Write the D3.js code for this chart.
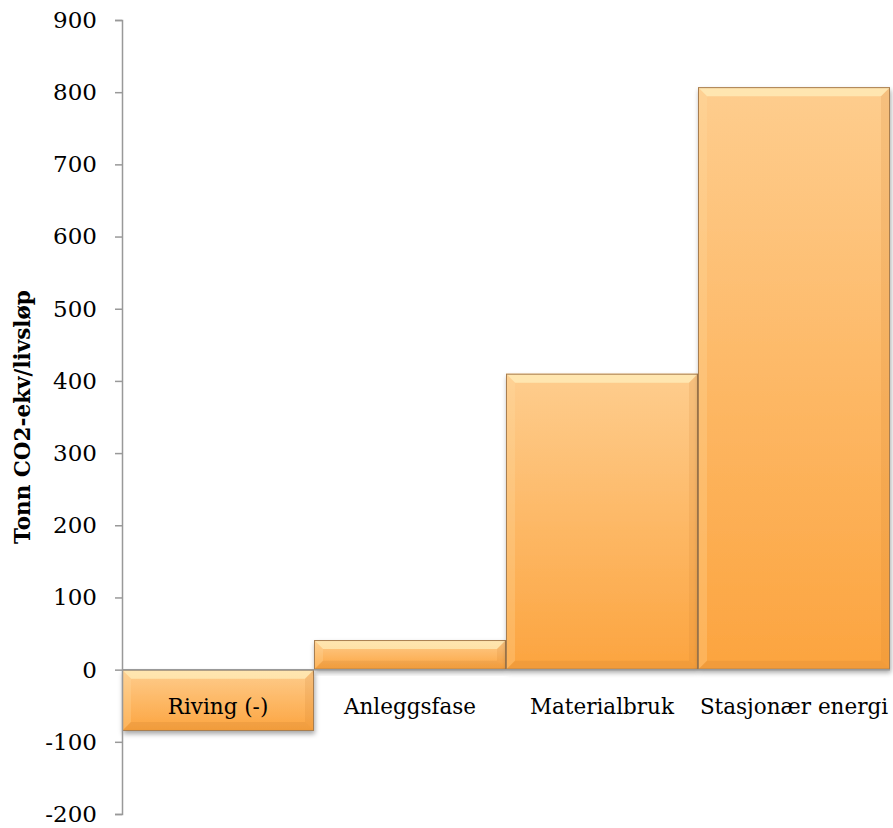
<!DOCTYPE html>
<html>
<head>
<meta charset="utf-8">
<script src="https://cdn.jsdelivr.net/npm/d3@7"></script>
<style>
  body { margin: 0; background: #fff; }
  text { font-family: "DejaVu Serif", "Liberation Serif", serif; }
</style>
</head>
<body>
<div id="chart"></div>
<script>
// data
const categories = ["Riving (-)", "Anleggsfase", "Materialbruk", "Stasjonær energi"];
const values = [-85, 41, 410, 807];
const yTicks = [-200, -100, 0, 100, 200, 300, 400, 500, 600, 700, 800, 900];
const yLabel = "Tonn CO2-ekv/livsløp";

const width = 893, height = 828;
const margin = { top: 20, right: 3, bottom: 14, left: 122 };

const svg = d3.select("#chart").append("svg")
  .attr("width", width)
  .attr("height", height);

const defs = svg.append("defs");

const grad = defs.append("linearGradient")
  .attr("id", "barGrad")
  .attr("x1", 0).attr("y1", 0).attr("x2", 0).attr("y2", 1);
grad.append("stop").attr("offset", "0%").attr("stop-color", "#fecd8e");
grad.append("stop").attr("offset", "100%").attr("stop-color", "#fca43f");

const shadow = defs.append("filter")
  .attr("id", "shadow")
  .attr("x", "-10%").attr("y", "-10%").attr("width", "130%").attr("height", "130%");
shadow.append("feDropShadow")
  .attr("dx", 1).attr("dy", 3).attr("stdDeviation", 2.5)
  .attr("flood-color", "#000").attr("flood-opacity", 0.35);

const x = d3.scaleBand()
  .domain(categories)
  .range([margin.left, width - margin.right])
  .padding(0);

const y = d3.scaleLinear()
  .domain([-200, 900])
  .range([height - margin.bottom, margin.top]);

// bars
const bev = 9;
const bars = svg.append("g").selectAll("g.bar")
  .data(categories.map((c, i) => ({ cat: c, val: values[i] })))
  .enter().append("g")
  .attr("class", "bar");

bars.each(function(d) {
  const g = d3.select(this);
  const x0 = x(d.cat), x1 = x0 + x.bandwidth();
  const yt = y(Math.max(0, d.val)), yb = y(Math.min(0, d.val));
  const b = Math.min(bev, (yb - yt) / 2);

  g.append("rect")
    .attr("x", x0).attr("y", yt)
    .attr("width", x1 - x0).attr("height", yb - yt)
    .attr("fill", "url(#barGrad)")
    .attr("filter", "url(#shadow)");

  // bevel faces
  g.append("polygon")
    .attr("points", [[x0, yt], [x1, yt], [x1 - b, yt + b], [x0 + b, yt + b]].join(" "))
    .attr("fill", "#fff6c8").attr("opacity", 0.6);
  g.append("polygon")
    .attr("points", [[x0, yt], [x0 + b, yt + b], [x0 + b, yb - b], [x0, yb]].join(" "))
    .attr("fill", "#ffe0a8").attr("opacity", 0.25);
  g.append("polygon")
    .attr("points", [[x1, yt], [x1, yb], [x1 - b, yb - b], [x1 - b, yt + b]].join(" "))
    .attr("fill", "#c8772a").attr("opacity", 0.15);
  g.append("polygon")
    .attr("points", [[x0, yb], [x1, yb], [x1 - b, yb - b], [x0 + b, yb - b]].join(" "))
    .attr("fill", "#b86a20").attr("opacity", 0.15);

  g.append("rect")
    .attr("x", x0 + 0.5).attr("y", yt + 0.5)
    .attr("width", x1 - x0 - 1).attr("height", yb - yt - 1)
    .attr("fill", "none")
    .attr("stroke", "#a87e50")
    .attr("stroke-width", 1);
});

// zero line
svg.append("line")
  .attr("x1", margin.left).attr("x2", width - margin.right)
  .attr("y1", y(0)).attr("y2", y(0))
  .attr("stroke", "#999").attr("stroke-width", 1.5);

// y axis
const yAxis = svg.append("g")
  .attr("transform", `translate(${margin.left},0)`)
  .call(d3.axisLeft(y).tickValues(yTicks).tickSize(7).tickPadding(18).tickFormat(d => String(d)));
yAxis.select(".domain").attr("stroke", "#999").attr("stroke-width", 1.5);
yAxis.selectAll(".tick line").attr("stroke", "#999").attr("stroke-width", 1.5);
yAxis.selectAll(".tick text")
  .attr("font-family", "DejaVu Serif, Liberation Serif, serif")
  .attr("font-size", 23)
  .attr("fill", "#000");

// category labels
svg.append("g").selectAll("text")
  .data(categories)
  .enter().append("text")
  .attr("x", d => x(d) + x.bandwidth() / 2)
  .attr("y", y(0) + 44)
  .attr("text-anchor", "middle")
  .attr("font-size", 21.5)
  .attr("fill", "#000")
  .text(d => d);

// y label
svg.append("text")
  .attr("transform", `translate(30,${(y(-200) + y(900)) / 2}) rotate(-90)`)
  .attr("text-anchor", "middle")
  .attr("font-size", 21.5)
  .attr("font-weight", "bold")
  .attr("fill", "#000")
  .text(yLabel);
</script>
</body>
</html>
